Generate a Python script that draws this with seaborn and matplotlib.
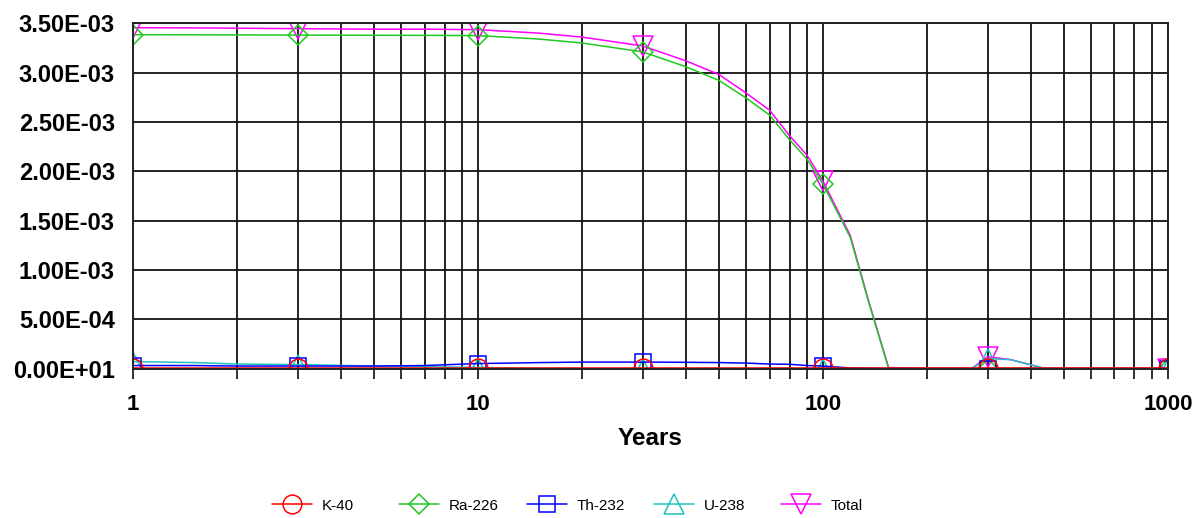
import numpy as np
import pandas as pd
import matplotlib
matplotlib.use("Agg")
import matplotlib.pyplot as plt
from matplotlib.lines import Line2D
from matplotlib.ticker import LogLocator, NullFormatter
import seaborn as sns

# time points (years)
years = [1, 1.5, 2, 3, 5, 7, 10, 15, 20, 30, 40, 50, 60, 70, 80, 90,
         100, 120, 135, 155, 200, 270, 300, 350, 440, 700, 1000]
marker_years = [1, 3, 10, 30, 100, 300, 1000]

k40 = [2e-6] * len(years)
ra226 = [3.384e-3, 3.383e-3, 3.382e-3, 3.380e-3, 3.378e-3, 3.377e-3, 3.375e-3,
         3.340e-3, 3.300e-3, 3.210e-3, 3.060e-3, 2.920e-3, 2.740e-3, 2.570e-3,
         2.320e-3, 2.120e-3, 1.870e-3, 1.330e-3, 0.700e-3, 0.0, 0.0, 0.0, 0.0,
         0.0, 0.0, 0.0, 0.0]
th232 = [3e-5, 3e-5, 2.5e-5, 2.5e-5, 2.5e-5, 3e-5, 5e-5, 6e-5, 6.5e-5, 6.5e-5,
         6.3e-5, 6e-5, 5.5e-5, 4.5e-5, 4.3e-5, 3e-5, 2.5e-5, 5e-6, 3e-6, 0.0,
         0.0, 0.0, 0.0, 0.0, 0.0, 0.0, 0.0]
u238 = [7e-5, 6e-5, 4.5e-5, 4e-5, 2.5e-5, 2e-5, 1e-5, 2e-6, 0.0, 0.0, 0.0, 0.0,
        0.0, 0.0, 0.0, 0.0, 0.0, 0.0, 0.0, 0.0, 0.0, 0.0, 1.0e-4, 9e-5, 0.0,
        0.0, 0.0]
total = [3.455e-3, 3.453e-3, 3.450e-3, 3.445e-3, 3.440e-3, 3.440e-3, 3.435e-3,
         3.400e-3, 3.360e-3, 3.270e-3, 3.120e-3, 2.980e-3, 2.790e-3, 2.620e-3,
         2.360e-3, 2.160e-3, 1.900e-3, 1.350e-3, 0.710e-3, 1e-5, 0.0, 0.0,
         1.2e-4, 9e-5, 0.0, 0.0, 0.0]

y_ticks = [0, 5e-4, 1e-3, 1.5e-3, 2e-3, 2.5e-3, 3e-3, 3.5e-3]
y_tick_labels = ["0.00E+01", "5.00E-04", "1.00E-03", "1.50E-03", "2.00E-03",
                 "2.50E-03", "3.00E-03", "3.50E-03"]
x_ticks = [1, 10, 100, 1000]
x_tick_labels = ["1", "10", "100", "1000"]

# name, values, colour, marker, marker size
series = [
    ("K-40", k40, "#ff0000", "o", 13.5),
    ("Ra-226", ra226, "#22c822", "D", 10.5),
    ("Th-232", th232, "#0000ff", "s", 11.5),
    ("U-238", u238, "#20c0c0", "^", 14.5),
    ("Total", total, "#ff00ff", "v", 14.5),
]
draw_order = [4, 1, 3, 2, 0]

sns.set_style("white")
plt.rcParams["font.family"] = ["Liberation Sans", "DejaVu Sans"]
plt.rcParams["text.color"] = "black"
plt.rcParams["xtick.color"] = "black"
plt.rcParams["ytick.color"] = "black"
plt.rcParams["axes.labelcolor"] = "black"

fig = plt.figure(figsize=(12.04, 5.18), dpi=100)
ax = fig.add_axes([0.1105, 0.2886, 0.8595, 0.6665])

mark_idx = [years.index(m) for m in marker_years]
for i in draw_order:
    name, vals, col, mk, ms = series[i]
    df = pd.DataFrame({"Years": years, "val": vals})
    sns.lineplot(data=df, x="Years", y="val", ax=ax, color=col, linewidth=1.1,
                 marker=mk, markevery=mark_idx, markersize=ms,
                 markerfacecolor="none", markeredgecolor=col,
                 markeredgewidth=1.1, legend=False, zorder=3)

ax.set_xscale("log")
ax.set_xlim(1, 1000)
ax.set_ylim(0, 3.5e-3)
ax.set_xticks(x_ticks)
ax.set_xticklabels(x_tick_labels)
ax.xaxis.set_minor_locator(LogLocator(base=10, subs=np.arange(2, 10)))
ax.xaxis.set_minor_formatter(NullFormatter())
ax.set_yticks(y_ticks)
ax.set_yticklabels(y_tick_labels)

ax.grid(True, which="both", axis="x", color="#111111", linewidth=1.3)
ax.grid(True, which="major", axis="y", color="#111111", linewidth=1.3)
ax.set_axisbelow(True)

for side in ["top", "right", "left", "bottom"]:
    ax.spines[side].set_color("#222222")
    ax.spines[side].set_linewidth(1.4)
    ax.spines[side].set_zorder(10)

ax.tick_params(axis="y", which="major", direction="out", length=7, width=1.3,
               color="#222222", pad=6, labelsize=17)
ax.tick_params(axis="x", which="both", direction="out", length=7, width=1.3,
               color="#222222", pad=11, labelsize=16, bottom=True)
for lbl in ax.get_xticklabels() + ax.get_yticklabels():
    lbl.set_fontweight("bold")

ax.set_xlabel("Years", fontsize=17.5, fontweight="bold", labelpad=9)
ax.set_ylabel("")

# legend entries spaced evenly below the plot
legend_x = [272, 399, 527, 654, 781]
for (name, vals, col, mk, ms), lx in zip(series, legend_x):
    h = Line2D([0], [0], color=col, lw=1.1, marker=mk, markersize=ms,
               markerfacecolor="none", markeredgecolor=col, markeredgewidth=1.1)
    fig.legend([h], [name], loc="center left",
               bbox_to_anchor=(lx / 1204, 1 - 505.5 / 518), frameon=False,
               fontsize=11, handlelength=2.6, handletextpad=0.65,
               borderpad=0, borderaxespad=0)

fig.savefig("out.png", dpi=100, facecolor="white")
